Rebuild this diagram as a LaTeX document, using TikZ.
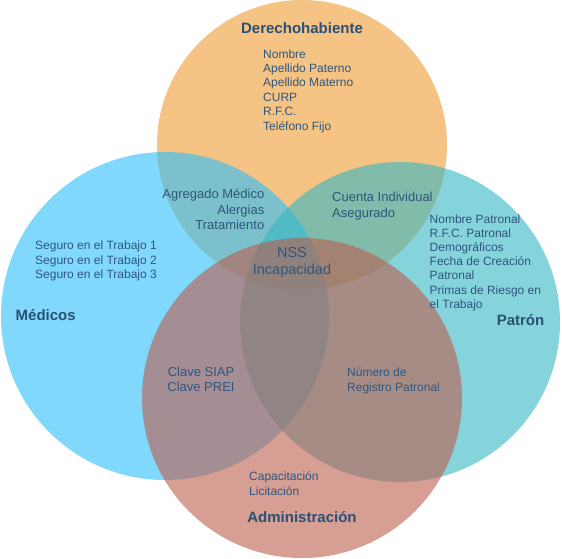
\documentclass[tikz,border=0pt]{standalone}
\usepackage{fontspec}
\setmainfont{Liberation Sans}
\definecolor{corange}{RGB}{238,155,50}
\definecolor{cblue}{RGB}{43,190,250}
\definecolor{cteal}{RGB}{52,182,195}
\definecolor{cred}{RGB}{188,93,77}
\definecolor{ctext}{RGB}{46,86,126}
\definecolor{ctitle}{RGB}{42,80,116}
\newcommand{\mylines}[2]{\begin{tabular}[t]{@{}#1@{}}#2\end{tabular}}
\begin{document}
\begin{tikzpicture}[x=1pt,y=-1pt,
  setcircle/.style={circle, draw=none, inner sep=0pt, outer sep=0pt, fill opacity=0.6},
  titletext/.style={inner sep=0pt, text=ctitle, font=\fontsize{15}{17}\selectfont\bfseries},
  bodytext/.style={inner sep=0pt, text=ctext, font=\fontsize{12}{14.35}\selectfont},
  bigtext/.style={inner sep=0pt, text=ctext, font=\fontsize{13}{15.7}\selectfont}]
\useasboundingbox (0,0) rectangle (562,559);
% circles
\node[setcircle, fill=corange, minimum size=290pt] (der) at (302,145) {};
\node[setcircle, fill=cblue, minimum size=328pt] (med) at (165,316) {};
\node[setcircle, fill=cteal, minimum size=320pt] (pat) at (400,322) {};
\node[setcircle, fill=cred, minimum size=320pt] (adm) at (302,398) {};
% titles
\node[titletext, anchor=base] (tder) at (302,33.5) {Derechohabiente};
\node[titletext, anchor=base west] (tmed) at (15.5,320.5) {Médicos};
\node[titletext, anchor=base east] (tpat) at (544.5,325) {Patrón};
\node[titletext, anchor=base] (tadm) at (302,522.5) {Administración};
% contents
\node[bodytext, anchor=base west] (lder) at (263,58.3)
  {\mylines{l}{Nombre\\Apellido Paterno\\Apellido Materno\\CURP\\R.F.C.\\Teléfono Fijo}};
\node[bigtext, anchor=base east] (ldm) at (264.5,198.5)
  {\mylines{r}{Agregado Médico\\Alergias\\Tratamiento}};
\node[bigtext, anchor=base west] (ldp) at (332,201.7)
  {\mylines{l}{Cuenta Individual\\Asegurado}};
\node[bodytext, anchor=base west] (lmed) at (35,249.3)
  {{\fontsize{12}{14.7}\selectfont\mylines{l}{Seguro en el Trabajo 1\\Seguro en el Trabajo 2\\Seguro en el Trabajo 3}}};
\node[bodytext, anchor=base west] (lpat) at (429.5,223)
  {{\fontsize{12}{14.2}\selectfont\mylines{l}{Nombre Patronal\\R.F.C. Patronal\\Demográficos\\Fecha de Creación\\Patronal\\Primas de Riesgo en\\el Trabajo}}};
\node[inner sep=0pt, text=ctext, anchor=base] (lall) at (292,257.3)
  {{\fontsize{14.5}{17}\selectfont\mylines{c}{NSS\\Incapacidad}}};
\node[bigtext, anchor=base] (lma) at (201,376.7)
  {{\fontsize{13}{15}\selectfont\mylines{c}{Clave SIAP\\Clave PREI}}};
\node[bodytext, anchor=base west] (lpa) at (347,376.7)
  {{\fontsize{12}{15}\selectfont\mylines{l}{Número de\\Registro Patronal}}};
\node[bodytext, anchor=base west] (ladm) at (249,480)
  {{\fontsize{12}{15}\selectfont\mylines{l}{Capacitación\\Licitación}}};
\end{tikzpicture}
\end{document}
